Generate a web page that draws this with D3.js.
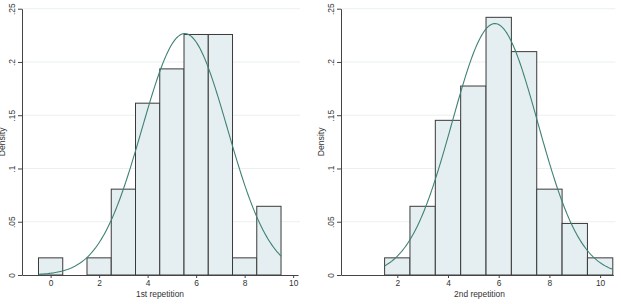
<!DOCTYPE html>
<html>
<head>
<meta charset="utf-8">
<script src="https://cdn.jsdelivr.net/npm/d3@7"></script>
<style>
  body { margin: 0; background: #fff; }
  svg { display: block; font-family: "Liberation Sans", Arial, sans-serif; }
</style>
</head>
<body>
<svg id="chart" width="621" height="304"></svg>
<script>
// histogram densities, one bar per integer value (bin width 1)
const bins1 = [0, 1, 2, 3, 4, 5, 6, 7, 8, 9];
const density1 = [0.0161, 0, 0.0161, 0.0806, 0.1613, 0.1935, 0.2258, 0.2258, 0.0161, 0.0645];
const bins2 = [2, 3, 4, 5, 6, 7, 8, 9, 10];
const density2 = [0.0161, 0.0645, 0.1452, 0.1774, 0.2419, 0.2097, 0.0806, 0.0484, 0.0161];

// normal overlay parameters
const fit1 = { mean: 5.53, sd: 1.76 };
const fit2 = { mean: 5.85, sd: 1.69 };

const xTicks1 = [0, 2, 4, 6, 8, 10];
const xTicks2 = [2, 4, 6, 8, 10];
const yTicks = [0, 0.05, 0.1, 0.15, 0.2, 0.25];
const yTickLabels = ["0", ".05", ".1", ".15", ".2", ".25"];
const xTitles = ["1st repetition", "2nd repetition"];
const yTitle = "Density";

const svg = d3.select("#chart");

function drawPanel(cfg) {
    const g = svg.append("g");
    const x = d3.scaleLinear().domain(cfg.xDomain).range(cfg.xRange);
    const y = d3.scaleLinear().domain([0, 0.25]).range([275, 8.7]);
    const left = cfg.xRange[0], right = cfg.xRange[1];

    // gridlines
    g.selectAll("line.grid")
        .data(yTicks.slice(1))
        .join("line")
        .attr("class", "grid")
        .attr("x1", left).attr("x2", right + 2)
        .attr("y1", d => y(d)).attr("y2", d => y(d))
        .attr("stroke", "#eaf0f0")
        .attr("stroke-width", 1);

    // bars
    const bars = cfg.bins.map((b, i) => ({ b: b, d: cfg.density[i] })).filter(o => o.d > 0);
    g.selectAll("rect.bar")
        .data(bars)
        .join("rect")
        .attr("class", "bar")
        .attr("x", d => x(d.b - 0.5))
        .attr("width", d => x(d.b + 0.5) - x(d.b - 0.5))
        .attr("y", d => y(d.d))
        .attr("height", d => y(0) - y(d.d))
        .attr("fill", "#e5eff1")
        .attr("stroke", "#3a3a3a")
        .attr("stroke-width", 1);

    // normal density curve over the bin range
    const lo = cfg.bins[0] - 0.5, hi = cfg.bins[cfg.bins.length - 1] + 0.5;
    const pts = d3.range(0, 201).map(k => {
        const v = lo + (hi - lo) * k / 200;
        const z = (v - cfg.fit.mean) / cfg.fit.sd;
        return [v, Math.exp(-0.5 * z * z) / (cfg.fit.sd * Math.sqrt(2 * Math.PI))];
    });
    g.append("path")
        .datum(pts)
        .attr("fill", "none")
        .attr("stroke", "#3f8175")
        .attr("stroke-width", 1.1)
        .attr("d", d3.line().x(d => x(d[0])).y(d => y(d[1])));

    // axes
    const xAxisG = g.append("g")
        .attr("transform", `translate(0,${y(0)})`)
        .call(d3.axisBottom(x).tickValues(cfg.xTicks).tickSize(3).tickPadding(2).tickSizeOuter(0));
    xAxisG.select(".domain").attr("stroke", "#444");
    xAxisG.selectAll(".tick line").attr("stroke", "#444");
    xAxisG.selectAll(".tick text").attr("font-size", 8.4).attr("fill", "#333")
        .attr("font-family", "Liberation Sans, Arial, sans-serif");

    const yAxisG = g.append("g")
        .attr("transform", `translate(${left},0)`)
        .call(d3.axisLeft(y).tickValues(yTicks).tickSize(4).tickSizeOuter(0)
            .tickFormat((d, i) => yTickLabels[i]));
    yAxisG.select(".domain").attr("stroke", "#444");
    yAxisG.selectAll(".tick line").attr("stroke", "#444");
    yAxisG.selectAll(".tick text")
        .attr("font-size", 8.4).attr("fill", "#333")
        .attr("font-family", "Liberation Sans, Arial, sans-serif")
        .attr("text-anchor", "middle")
        .attr("x", 0).attr("dy", 0)
        .attr("transform", "translate(-7,0) rotate(-90)");

    g.append("text")
        .attr("x", cfg.titleX)
        .attr("y", 297)
        .attr("text-anchor", "middle")
        .attr("font-size", 8.4)
        .attr("fill", "#333")
        .text(cfg.xTitle);

    g.append("text")
        .attr("transform", `translate(${left - 17},${(y(0) + y(0.25)) / 2}) rotate(-90)`)
        .attr("text-anchor", "middle")
        .attr("font-size", 8.6)
        .attr("fill", "#333")
        .text(yTitle);
}

drawPanel({
    bins: bins1, density: density1, fit: fit1, xTicks: xTicks1, xTitle: xTitles[0],
    xDomain: [-1.18, 10.2], xRange: [22, 298], titleX: 160
});
drawPanel({
    bins: bins2, density: density2, fit: fit2, xTicks: xTicks2, xTitle: xTitles[1],
    xDomain: [-0.22, 10.52], xRange: [341, 613.3], titleX: 479.5
});
</script>
</body>
</html>
